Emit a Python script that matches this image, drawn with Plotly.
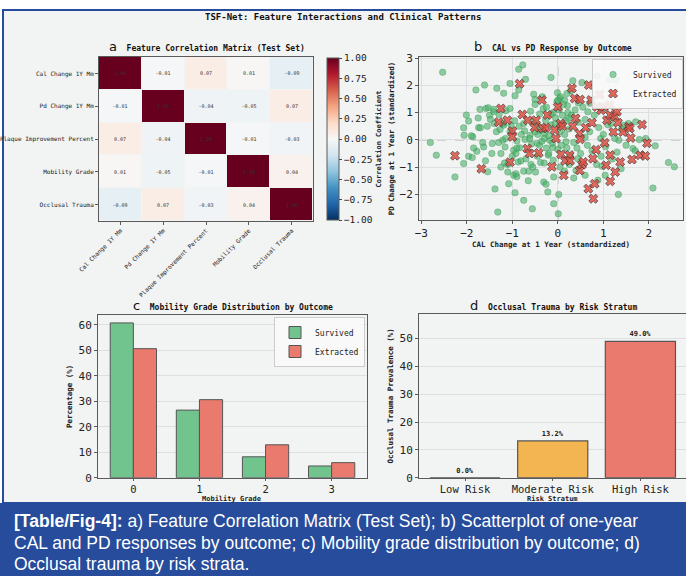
import plotly.graph_objects as go

W, H = 686, 576

# ---------------- data ----------------
features = ["Cal Change 1Y Mm", "Pd Change 1Y Mm", "Plaque Improvement Percent",
            "Mobility Grade", "Occlusal Trauma"]
corr = [[1.00, -0.01, 0.07, 0.01, -0.09],
        [-0.01, 1.00, -0.04, -0.05, 0.07],
        [0.07, -0.04, 1.00, -0.01, -0.03],
        [0.01, -0.05, -0.01, 1.00, 0.04],
        [-0.09, 0.07, -0.03, 0.04, 1.00]]

surv_x = [-2.53, -2.80, -2.67, -2.26, -2.07, -2.01, -1.96, -2.06, -2.07, -1.96, -1.87, -1.88,
          -1.80, -1.71, -1.74, -1.70, -1.78, -1.61, -1.58, -1.63, -1.59, -1.53, -1.50, -1.48,
          -1.44, -1.54, -1.41, -1.40, -1.41, -1.38, -1.34, -1.32, -1.27, -1.29, -1.19, -1.19,
          -1.21, -1.25, -1.14, -1.16, -1.17, -1.10, -1.05, -1.05, -1.03, -1.08, -0.97, -0.94,
          -0.94, -0.92, -0.97, -0.92, -0.90, -0.86, -0.86, -0.87, -0.84, -0.81, -0.77, -0.75,
          -0.75, -0.73, -0.71, -0.72, -0.64, -0.61, -0.59, -0.56, -0.55, -0.53, -0.50, -0.49,
          -0.45, -0.44, -0.40, -0.38, -0.34, -0.32, -0.31, -0.29, -0.27, -0.26, -0.22, -0.21,
          -0.18, -0.15, -0.11, -0.09, -0.09, -0.06, -0.02, -0.01, 0.02, 0.01, 0.04, 0.06,
          0.15, 0.18, 0.21, 0.23, 0.28, 0.33, 0.40, 0.44, 0.53, 0.66, 0.70, 0.86, 0.88, 0.94,
          0.97, 1.04, 1.12, 1.17, 1.28, 1.33, 1.34, 1.39, 1.44, 1.65, 1.71, 1.79, 1.93, 2.14,
          2.09, 2.43, 2.56,
          -0.62, -0.58, -0.50, -0.45, -0.38, -0.35, -0.30, -0.25, -0.20, -0.15, -0.12, -0.10,
          -0.05, 0.00, 0.03, 0.05, 0.08, 0.10, 0.12, 0.15, 0.18, 0.20, 0.22, 0.25, 0.28, 0.30,
          0.35, 0.38, 0.42, 0.45, 0.50, 0.55, 0.60, 0.65, 0.70, 0.75, 0.80, 0.85, 0.90, 0.95,
          1.00, 1.05, 1.10, 1.20, 1.25, 1.30, 1.40, 1.50, 1.55, 1.70,
          -0.80, -0.85, -0.90, -0.95, -1.00, -1.05, -1.10, -1.15, -1.20, -1.30, -1.35, -1.45,
          -1.55, -1.65, -1.75, -1.85, -1.90,
          -0.70, -0.55, -0.45, -0.30, -0.20, -0.10, 0.00, 0.05, 0.15, 0.25, 0.35, -0.65, -0.90,
          -1.25, 0.60, -0.60, -0.40, -0.25, -0.50, 0.45, 0.20, 0.60, -0.75, -0.15, 0.10]
surv_y = [2.48, -0.10, -0.56, -1.36, 0.44, 0.91, 0.69, 0.17, -0.87, -0.60, 0.11, -0.65,
          1.83, 1.12, 0.45, 0.44, -0.42, 2.01, 1.15, -0.26, -0.77, 1.18, 0.90, 0.75,
          -0.13, -1.17, 1.03, 0.60, 1.12, -1.80, 1.89, -2.65, 0.38, 0.93, 1.71, 0.54,
          -0.01, -0.50, 1.07, -0.26, -0.85, -1.18, 2.07, 1.15, 0.54, -1.61, -0.38, 1.62,
          -1.94, -0.50, -1.30, -1.24, -0.04, 2.59, 1.83, -0.81, -0.29, -0.77, 2.75, -2.22,
          -1.15, 0.33, 2.22, 0.01, -1.15, 0.17, -0.90, -2.53, 0.66, 1.67, 1.48, -1.18,
          -0.13, 0.20, -0.20, -0.83, 1.58, 1.15, -1.55, 0.23, 0.72, -1.63, -1.91, -0.56,
          -0.01, 2.29, -0.28, -2.34, -1.36, 0.60, 1.40, 1.73, -2.00, -2.71, 1.52, 1.58,
          1.46, -0.07, 1.25, 0.79, 1.80, 2.17, -1.12, -0.69, 2.10, 1.03, 1.34, 2.34, -1.48, 0.05,
          -0.97, -1.30, 2.20, 0.60, 2.20, -2.00, -0.01, -1.06, 0.54, -0.32, 0.66, 0.01, 0.05, -0.22,
          -1.77, -0.83, -0.99,
          0.05, -0.15, 0.30, 0.55, 0.35, -0.05, 0.05, -0.30, 0.15, 0.55, -0.12, 1.00,
          0.80, 1.45, 1.10, 0.30, -0.20, 0.90, 1.30, 0.20, 0.70, -0.30, 1.00, 0.40, -0.60, 0.90,
          -0.10, 1.10, -0.30, 0.65, -0.50, 1.20, 0.10, -0.20, 0.30, -0.40, 0.90, -0.90, 0.45, -0.60,
          0.20, -0.25, 0.55, -0.70, 0.05, -0.45, 0.40, -0.20, 0.60, -0.40,
          0.20, 0.50, -0.30, 0.70, -0.60, 0.30, -0.90, 0.05, 0.60, -0.10, 0.30, -0.50,
          0.50, -0.10, 0.80, -0.30, 0.15,
          -0.70, -1.00, -0.60, -0.85, -0.50, -0.75, -0.35, -1.00, -1.15, -0.90, -1.40, -1.50, -1.35,
          -1.00, -1.30, 1.05, 0.95, 1.20, 1.30, 1.35, 1.70, 0.75, 0.60, 0.95, 0.55]

ext_x = [-2.26, -1.68, -1.30, -1.25, -1.11, -1.05, -1.00, -1.00, -0.84, -0.78, -0.67, -0.66,
         -0.62, -0.51, -0.48, -0.42, -0.35, -0.33, -0.26, -0.23, -0.13, -0.07, -0.04, 0.00,
         0.06, 0.07, 0.10, 0.13, 0.16, 0.26, 0.27, 0.31, 0.33, 0.37, 0.39, 0.48, 0.49, 0.49,
         0.48, 0.53, 0.56, 0.61, 0.67, 0.68, 0.73, 0.75, 0.77, 0.78, 0.81, 0.84, 0.86, 0.92,
         0.95, 1.01, 1.03, 1.06, 1.08, 1.14, 1.15, 1.15, 1.15, 1.22, 1.25, 1.22, 1.26, 1.30,
         1.32, 1.37, 1.43, 1.56, 1.58, 1.60, 1.63, 1.81, 1.85, 1.92, 1.96]
ext_y = [-0.58, -1.06, 0.65, 1.15, 0.72, -0.82, 0.32, 0.11, 2.06, 0.93, -0.32, 0.72,
         -0.50, 0.45, 0.72, -0.48, 1.46, 0.42, 0.45, 0.91, -0.99, 0.36, 0.05, 1.21,
         0.60, -0.53, 0.50, -1.30, -0.77, -0.56, -0.77, 1.89, 0.50, 1.52, 0.79, 0.23, 1.48, 0.02,
         -1.12, -0.91, -0.81, 0.45, -1.79, 2.01, 1.46, 0.63, -0.69, -2.16, -1.61, -0.36, 1.21, 1.66,
         1.09, 1.21, -0.11, -0.93, 0.72, 1.28, 0.91, -0.56, -1.52, 1.68, 0.85, 0.29, -1.18, 1.03,
         0.63, -0.81, 0.29, 0.48, 0.42, 0.07, -0.72, -0.56, 0.56, -0.59, -0.12]

grades = ["0", "1", "2", "3"]
grade_survived = [60.7, 26.5, 8.2, 4.6]
grade_extracted = [50.6, 30.6, 12.9, 5.9]

strata = ["Low Risk", "Moderate Risk", "High Risk"]
trauma_prev = [0.0, 13.2, 49.0]

# ---------------- style helpers ----------------
MONO = "DejaVu Sans Mono"
BG = "#f2f3f3"
BLUE = "#264c9b"
SPINE = "#5a5a5a"
GRID = "#dddfe0"

def px_x(v):
    return v / W

def px_y(v):
    return 1 - v / H

def axis_common(**kw):
    d = dict(showline=True, mirror=True, linecolor=SPINE, linewidth=1,
             ticks="outside", ticklen=3, tickcolor=SPINE, tickwidth=1,
             tickfont=dict(family=MONO, size=11, color="#222"),
             zeroline=False, showgrid=False, automargin=False)
    d.update(kw)
    return d

def atitle(t, size=7.5):
    return dict(text="<b>" + t + "</b>", font=dict(family=MONO, size=size, color="#222"))

fig = go.Figure()

# ---------------- a: heatmap ----------------
fig.add_trace(go.Heatmap(
    z=corr, x=features, y=features, zmin=-1, zmax=1,
    colorscale="RdBu_r", xgap=1, ygap=1,
    texttemplate="%{z:.2f}", textfont=dict(family=MONO, size=5, color="#333"),
    xaxis="x", yaxis="y", hoverinfo="skip",
    colorbar=dict(x=px_x(327), xanchor="left", y=px_y(139), yanchor="middle",
                  len=162 / H, lenmode="fraction", thickness=12, xpad=0, ypad=0,
                  outlinecolor=SPINE, outlinewidth=1,
                  tickvals=[-1, -0.75, -0.5, -0.25, 0, 0.25, 0.5, 0.75, 1],
                  ticktext=["−1.00", "−0.75", "−0.50", "−0.25", "0.00", "0.25", "0.50", "0.75", "1.00"],
                  ticks="outside", ticklen=3, tickfont=dict(family=MONO, size=9.5, color="#222"),
                  title=dict(text="<b>Correlation Coefficient</b>", side="right",
                             font=dict(family=MONO, size=7, color="#222")))))

# ---------------- b: scatter ----------------
fig.add_trace(go.Scatter(
    x=surv_x, y=surv_y, mode="markers", name="Survived", xaxis="x2", yaxis="y2",
    marker=dict(size=6.5, color="rgba(72,176,104,0.6)",
                line=dict(color="rgba(40,130,70,0.5)", width=0.6)),
    legend="legend", hoverinfo="skip"))
fig.add_trace(go.Scatter(
    x=ext_x, y=ext_y, mode="markers", name="Extracted", xaxis="x2", yaxis="y2",
    marker=dict(size=8, symbol="x", color="rgba(222,80,66,0.85)",
                line=dict(color="#3a3a3a", width=0.7)),
    legend="legend", hoverinfo="skip"))

# ---------------- c: grouped bars ----------------
fig.add_trace(go.Bar(
    x=grades, y=grade_survived, name="Survived", xaxis="x3", yaxis="y3",
    marker=dict(color="#72c48e", line=dict(color="#555", width=1)),
    offsetgroup="s", legend="legend2", hoverinfo="skip"))
fig.add_trace(go.Bar(
    x=grades, y=grade_extracted, name="Extracted", xaxis="x3", yaxis="y3",
    marker=dict(color="#ea7a6d", line=dict(color="#555", width=1)),
    offsetgroup="e", legend="legend2", hoverinfo="skip"))

# ---------------- d: risk bars ----------------
fig.add_trace(go.Bar(
    x=strata, y=trauma_prev, xaxis="x4", yaxis="y4", showlegend=False, width=0.8,
    marker=dict(color=["#72c48e", "#f2b552", "#ea7a6d"], line=dict(color="#555", width=1.2)),
    texttemplate="<b>%{y:.1f}%</b>", textposition="outside",
    textfont=dict(family=MONO, size=7, color="#222"), cliponaxis=False, hoverinfo="skip"))

# ---------------- layout ----------------
shapes = [
    dict(type="rect", xref="paper", yref="paper", x0=px_x(3), x1=px_x(690), y0=px_y(503), y1=px_y(10),
         fillcolor=BG, line=dict(color=BLUE, width=2), layer="below"),
    dict(type="rect", xref="paper", yref="paper", x0=0, x1=1, y0=0, y1=px_y(503),
         fillcolor=BLUE, line=dict(width=0), layer="below"),
    dict(type="line", xref="x2", yref="y2 domain", x0=0, x1=0, y0=0, y1=1,
         line=dict(color="#999", width=1, dash="dash"), layer="below"),
    dict(type="line", xref="x2 domain", yref="y2", x0=0, x1=1, y0=0, y1=0,
         line=dict(color="#999", width=1, dash="dash"), layer="below"),
]

def subtitle(letter, text, xc, yc):
    return dict(xref="paper", yref="paper", x=px_x(xc), y=px_y(yc), xanchor="center",
                yanchor="middle", showarrow=False,
                text=("<span style='font-family:DejaVu Sans;font-size:13px'>" + letter +
                      "</span>  <b>" + text + "</b>"),
                font=dict(family=MONO, size=8, color="#111"))

def xlabel(text, xc, yc):
    return dict(xref="paper", yref="paper", x=px_x(xc), y=px_y(yc), xanchor="center",
                yanchor="middle", showarrow=False, text="<b>" + text + "</b>",
                font=dict(family=MONO, size=7, color="#222"))

annotations = [
    dict(xref="paper", yref="paper", x=px_x(343), y=px_y(17), xanchor="center", yanchor="middle",
         showarrow=False, text="<b>TSF-Net: Feature Interactions and Clinical Patterns</b>",
         font=dict(family=MONO, size=9, color="#111")),
    subtitle("a", "Feature Correlation Matrix (Test Set)", 207, 47),
    subtitle("b", "CAL vs PD Response by Outcome", 553, 47),
    subtitle("c", "Mobility Grade Distribution by Outcome", 233, 305),
    subtitle("d", "Occlusal Trauma by Risk Stratum", 553, 305),
    xlabel("Mobility Grade", 232, 498.5),
    xlabel("Risk Stratum", 552, 498.5),
]
cap_lines = [
    "<b>[Table/Fig-4]:</b> a) Feature Correlation Matrix (Test Set); b) Scatterplot of one-year",
    "CAL and PD responses by outcome; c) Mobility grade distribution by outcome; d)",
    "Occlusal trauma by risk strata.",
]
for i, t in enumerate(cap_lines):
    annotations.append(dict(xref="paper", yref="paper", x=px_x(12), y=px_y(521 + 21.5 * i),
                            xanchor="left", yanchor="middle", showarrow=False, text=t,
                            font=dict(family="Liberation Sans, sans-serif",
                                      size=17.5, color="white")))

fig.update_layout(
    width=W, height=H, margin=dict(l=0, r=0, t=0, b=0, autoexpand=False),
    paper_bgcolor="white", plot_bgcolor="rgba(0,0,0,0)",
    shapes=shapes, annotations=annotations, bargap=0.3, barmode="group",
    xaxis=axis_common(domain=[px_x(99), px_x(313)], anchor="y",
                      tickangle=-45, tickfont=dict(family=MONO, size=6, color="#222")),
    yaxis=axis_common(domain=[px_y(221), px_y(57)], anchor="x", autorange="reversed",
                      tickfont=dict(family=MONO, size=6, color="#222")),
    xaxis2=axis_common(domain=[px_x(419), px_x(683)], anchor="y2", range=[-3.05, 2.75],
                       dtick=1, showgrid=True, gridcolor=GRID, gridwidth=1,
                       title=dict(standoff=0, **atitle("CAL Change at 1 Year (standardized)"))),
    yaxis2=axis_common(domain=[px_y(220), px_y(57)], anchor="x2", range=[-2.94, 3.04],
                       dtick=1, showgrid=True, gridcolor=GRID, gridwidth=1,
                       title=dict(standoff=3, **atitle("PD Change at 1 Year (standardized)"))),
    xaxis3=axis_common(domain=[px_x(98), px_x(367)], anchor="y3", range=[-0.535, 3.535],
                       ticklen=2, tickfont=dict(family=MONO, size=10.5, color="#222")),
    yaxis3=axis_common(domain=[px_y(477.7), px_y(315)], anchor="x3", range=[0, 63.8],
                       dtick=10, showgrid=True, gridcolor=GRID,
                       title=dict(standoff=4, **atitle("Percentage (%)"))),
    xaxis4=axis_common(domain=[px_x(419), 1.0], anchor="y4", range=[-0.525, 2.52],
                       ticklen=2, tickfont=dict(family=MONO, size=10.5, color="#222")),
    yaxis4=axis_common(domain=[px_y(477.7), px_y(314)], anchor="x4", range=[0, 58.8],
                       dtick=10, showgrid=True, gridcolor=GRID,
                       title=dict(standoff=4, **atitle("Occlusal Trauma Prevalence (%)"))),
    legend=dict(x=px_x(683), y=px_y(59), xanchor="right", yanchor="top",
                bgcolor="rgba(250,250,250,0.9)", bordercolor="#ccc", borderwidth=1,
                font=dict(family=MONO, size=8, color="#222"), tracegroupgap=0),
    legend2=dict(x=px_x(365), y=px_y(317), xanchor="right", yanchor="top",
                 bgcolor="rgba(250,250,250,0.9)", bordercolor="#ccc", borderwidth=1,
                 font=dict(family=MONO, size=8, color="#222"), tracegroupgap=0),
)

fig.write_html("out.html")
